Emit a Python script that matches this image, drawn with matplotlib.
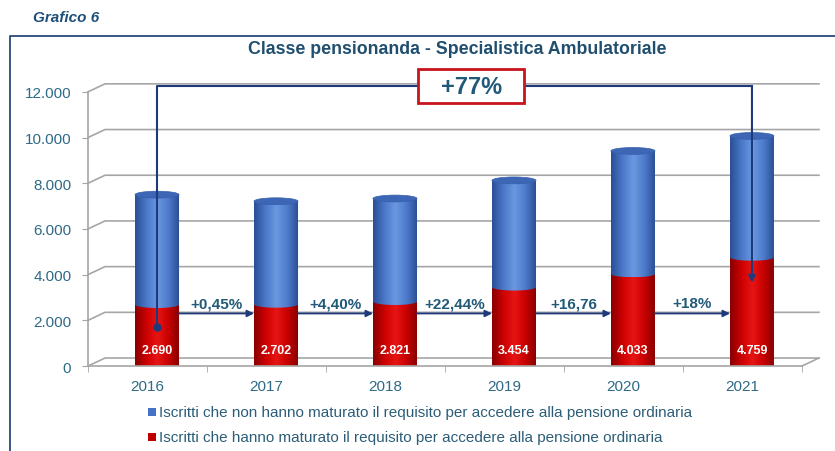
import numpy as np
import matplotlib
matplotlib.use("Agg")
import matplotlib.pyplot as plt
from matplotlib.colors import LinearSegmentedColormap
from matplotlib.path import Path
from matplotlib.patches import PathPatch, Ellipse, Rectangle
from matplotlib.lines import Line2D

plt.rcParams['font.family'] = ['Liberation Sans', 'DejaVu Sans']

# data
years = ['2016', '2017', '2018', '2019', '2020', '2021']
maturato = [2690, 2702, 2821, 3454, 4033, 4759]          # red
non_maturato = [4810, 4510, 4510, 4670, 5380, 5310]      # blue
step_labels = ['+0,45%', '+4,40%', '+22,44%', '+16,76', '+18%']
total_label = '+77%'
yticks = [0, 2000, 4000, 6000, 8000, 10000, 12000]

TEAL = '#215a78'
NAVY = '#1f3a7a'
GRID = '#a6a6a6'

blue_cm = LinearSegmentedColormap.from_list('b', ['#2b4f96', '#4a78c8', '#6b98e0', '#4d7bcb', '#2a4c92'])
red_cm = LinearSegmentedColormap.from_list('r', ['#8a0000', '#cc0000', '#e81515', '#c80000', '#850000'])
grad = np.linspace(0, 1, 64).reshape(1, -1)

fig = plt.figure(figsize=(8.35, 4.52), dpi=100)
ax = fig.add_axes([0.1054, 0.188, 0.855, 0.6066])

x = np.arange(len(years))
bx = x + 0.08      # bars sit a bit behind the front plane
w = 0.37
eh = 300           # ellipse height in data units
dx, dy = 0.143, 350  # depth offset of back wall


def half_ellipse_body(xc, y0, y1):
    t = np.linspace(np.pi, 2 * np.pi, 40)
    ex = xc + w / 2 * np.cos(t)
    ey = y0 + eh / 2 * np.sin(t)
    verts = [(xc - w / 2, y1)] + list(zip(ex, ey)) + [(xc + w / 2, y1), (xc - w / 2, y1)]
    codes = [Path.MOVETO] + [Path.LINETO] * (len(verts) - 2) + [Path.CLOSEPOLY]
    return Path(verts, codes)


def cyl_part(xc, y0, y1, cmap, z):
    p = PathPatch(half_ellipse_body(xc, y0, y1), fc='none', ec='none', transform=ax.transData)
    ax.add_patch(p)
    im = ax.imshow(grad, extent=[xc - w / 2, xc + w / 2, y0 - eh / 2, y1], aspect='auto',
                   cmap=cmap, interpolation='bicubic', zorder=z)
    im.set_clip_path(p)


# back-wall grid with 3D slant
for v in yticks:
    ax.add_line(Line2D([-0.5, -0.5 + dx, 5.5 + dx], [v, v + dy, v + dy], color=GRID, lw=1.2,
                       zorder=0, clip_on=False))
ax.add_line(Line2D([5.5, 5.5 + dx], [0, dy], color=GRID, lw=1.2, zorder=0, clip_on=False))

for i in range(len(years)):
    r = maturato[i]
    t = r + non_maturato[i]
    cyl_part(bx[i], 0, r, red_cm, 2)
    cyl_part(bx[i], r, t, blue_cm, 3)
    ax.add_patch(Ellipse((bx[i], t), w, eh, fc='#3d66b4', ec='#3560ad', lw=0.5, zorder=4))
    ax.text(bx[i], 720, f'{r:,}'.replace(',', '.'), ha='center', va='center', color='white',
            fontsize=9, fontweight='bold', zorder=5)

# step arrows between bars
for i, lab in enumerate(step_labels):
    ax.annotate('', xy=(bx[i + 1] - w / 2, 2300), xytext=(bx[i] + w / 2, 2300),
                arrowprops=dict(arrowstyle='-|>', color=NAVY, lw=1.3, mutation_scale=10,
                                shrinkA=0, shrinkB=0), zorder=5)
    ax.text((bx[i] + bx[i + 1]) / 2, 2750, lab, ha='center', va='center', color=TEAL,
            fontsize=11, fontweight='bold', zorder=5)

# overall +77% connector
top_y = 12250
ax.plot([bx[0], bx[0], bx[-1]], [1700, top_y, top_y], color=NAVY, lw=1.5, zorder=6,
        clip_on=False)
ax.plot(bx[0], 1700, 'o', color=NAVY, ms=5, zorder=6)
ax.annotate('', xy=(bx[-1], 3650), xytext=(bx[-1], top_y),
            arrowprops=dict(arrowstyle='-|>', color=NAVY, lw=1.5, mutation_scale=10,
                            shrinkA=0, shrinkB=0), zorder=6, annotation_clip=False)
ax.add_patch(Rectangle((2.72 - 0.445, top_y - 744), 0.89, 1488, fc='white', ec='#c8141c',
                       lw=2, zorder=7, clip_on=False))
ax.text(2.72, top_y, total_label, ha='center', va='center', color=TEAL, fontsize=17,
        fontweight='bold', zorder=8)

ax.set_xlim(-0.5, 5.5)
ax.set_ylim(0, 12000)
ax.set_xticks(x)
ax.set_xticklabels(years)
ax.set_xticks(np.arange(-0.5, 6, 1), minor=True)
ax.set_yticks(yticks)
ax.set_yticklabels([f'{v:,}'.replace(',', '.') for v in yticks])
ax.tick_params(axis='y', length=4, color=GRID, pad=8, labelsize=11, labelcolor='#2e6a88')
ax.tick_params(axis='x', which='major', length=0, pad=9, labelsize=11, labelcolor='#2e6a88')
ax.tick_params(axis='x', which='minor', length=4, color=GRID)
for s in ['top', 'right']:
    ax.spines[s].set_visible(False)
for s in ['left', 'bottom']:
    ax.spines[s].set_color(GRID)
    ax.spines[s].set_linewidth(1.2)

# frame and headings
fig.add_artist(Line2D([10 / 835, 10 / 835, 1], [0, 1 - 37 / 452, 1 - 37 / 452],
                      color='#2a4a7c', lw=1.3, transform=fig.transFigure))
fig.text(33 / 835, 1 - 18 / 452, 'Grafico 6', ha='left', va='center', fontsize=11,
         fontweight='bold', fontstyle='italic', color='#1f4e79')
fig.text(457 / 835, 1 - 50 / 452, 'Classe pensionanda - Specialistica Ambulatoriale',
         ha='center', va='center', fontsize=12.8, fontweight='bold', color='#1f4e6e')

# legend
leg = [('#4472c4', 'Iscritti che non hanno maturato il requisito per accedere alla pensione ordinaria'),
       ('#c00000', 'Iscritti che hanno maturato il requisito per accedere alla pensione ordinaria')]
for k, (c, txt) in enumerate(leg):
    yc = 1 - (413 + 25 * k) / 452
    fig.add_artist(Rectangle((148 / 835, yc - 4 / 452), 8 / 835, 8 / 452, fc=c, ec='none',
                             transform=fig.transFigure))
    fig.text(159 / 835, yc, txt, ha='left', va='center', fontsize=11, color='#2c5d78')

fig.savefig('out.png', dpi=100)
